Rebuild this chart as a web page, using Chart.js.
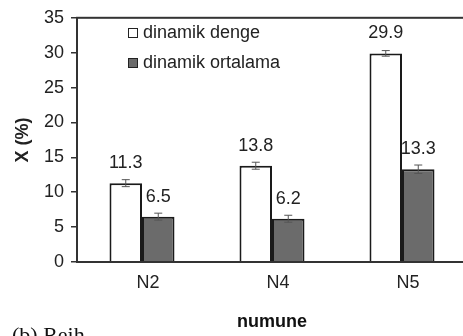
<!DOCTYPE html>
<html>
<head>
<meta charset="utf-8">
<script src="https://cdn.jsdelivr.net/npm/chart.js@4.4.0/dist/chart.umd.min.js"></script>
<style>
  html, body { margin: 0; padding: 0; background: #fff; overflow: hidden; }
  canvas { display: block; }
</style>
</head>
<body>
<canvas id="barChart" width="470" height="336" style="width:470px;height:336px"></canvas>
<script>
const categories = ['N2', 'N4', 'N5'];
const dengeValues = [11.3, 13.8, 29.9];
const ortalamaValues = [6.5, 6.2, 13.3];
const dengeErrors = [0.5, 0.5, 0.4];
const ortalamaErrors = [0.5, 0.5, 0.6];
const seriesLabels = ['dinamik denge', 'dinamik ortalama'];

const FONT = "'Liberation Sans', Arial, sans-serif";

// error bars, value labels, legend inside the plot, frame, caption
const extras = {
    id: 'extras',
    afterDatasetsDraw(chart) {
        const c = chart.ctx;
        const y = chart.scales.y;
        const area = chart.chartArea;
        const errs = [dengeErrors, ortalamaErrors];

        chart.data.datasets.forEach((ds, di) => {
            chart.getDatasetMeta(di).data.forEach((bar, i) => {
                const v = ds.data[i];
                const e = errs[di][i];
                const yHi = y.getPixelForValue(v + e);
                const yLo = y.getPixelForValue(v - e);
                c.save();
                c.strokeStyle = '#555';
                c.lineWidth = 1;
                c.beginPath();
                c.moveTo(bar.x, yHi); c.lineTo(bar.x, yLo);
                c.moveTo(bar.x - 4, yHi); c.lineTo(bar.x + 4, yHi);
                c.moveTo(bar.x - 4, yLo); c.lineTo(bar.x + 4, yLo);
                c.stroke();

                c.fillStyle = '#222';
                c.font = '18px ' + FONT;
                c.textAlign = 'center';
                c.textBaseline = 'middle';
                c.fillText(v.toFixed(1), bar.x, y.getPixelForValue(v) - 20);
                c.restore();
            });
        });

        // frame
        c.save();
        c.strokeStyle = '#333';
        c.lineWidth = 2;
        c.strokeRect(area.left, area.top, area.right - area.left, area.bottom - area.top);

        // legend
        const fills = ['#ffffff', '#6b6b6b'];
        c.font = '18px ' + FONT;
        c.textBaseline = 'middle';
        c.textAlign = 'left';
        seriesLabels.forEach((lab, i) => {
            const ly = 33 + i * 30;
            c.fillStyle = fills[i];
            c.fillRect(128, ly - 5, 10, 10);
            c.strokeStyle = '#222';
            c.lineWidth = 1;
            c.strokeRect(128.5, ly - 4.5, 9, 9);
            c.fillStyle = '#222';
            c.fillText(lab, 143, ly);
        });

        // caption cut off at the bottom
        c.font = "22px 'Liberation Serif', 'Times New Roman', serif";
        c.textBaseline = 'top';
        c.fillStyle = '#111';
        c.fillText('(b) Reih', 12, 325);
        c.restore();
    }
};

new Chart(document.getElementById('barChart'), {
    type: 'bar',
    data: {
        labels: categories,
        datasets: [{
            label: seriesLabels[0],
            data: dengeValues,
            backgroundColor: '#ffffff',
            borderColor: '#1a1a1a',
            borderWidth: 2,
            barPercentage: 1.0,
            categoryPercentage: 0.5
        }, {
            label: seriesLabels[1],
            data: ortalamaValues,
            backgroundColor: '#6b6b6b',
            borderColor: '#1a1a1a',
            borderWidth: 2,
            barPercentage: 1.0,
            categoryPercentage: 0.5
        }]
    },
    options: {
        responsive: false,
        animation: false,
        layout: { padding: { left: 0, top: 7, right: 3, bottom: 0 } },
        scales: {
            y: {
                min: 0,
                max: 35,
                afterFit(scale) { scale.width = 77; },
                ticks: {
                    stepSize: 5,
                    color: '#222',
                    padding: 7,
                    font: { family: FONT, size: 18 }
                },
                grid: {
                    drawOnChartArea: false,
                    tickLength: 6,
                    color: '#333',
                    lineWidth: 1.5
                },
                border: { color: '#333', width: 2 },
                title: {
                    display: true,
                    text: 'X (%)',
                    color: '#222',
                    padding: { top: 12, bottom: 0 },
                    font: { family: FONT, size: 18, weight: 'bold' }
                }
            },
            x: {
                afterFit(scale) { scale.height = 74; },
                ticks: {
                    color: '#222',
                    padding: 10,
                    labelOffset: 6,
                    font: { family: FONT, size: 18 }
                },
                grid: { display: false, drawTicks: false },
                border: { color: '#333', width: 2 },
                title: {
                    display: true,
                    text: 'numune',
                    color: '#111',
                    padding: { top: 0, bottom: 3 },
                    font: { family: FONT, size: 18, weight: 'bold' }
                }
            }
        },
        plugins: {
            legend: { display: false },
            tooltip: { enabled: false }
        }
    },
    plugins: [extras]
});
</script>
</body>
</html>
